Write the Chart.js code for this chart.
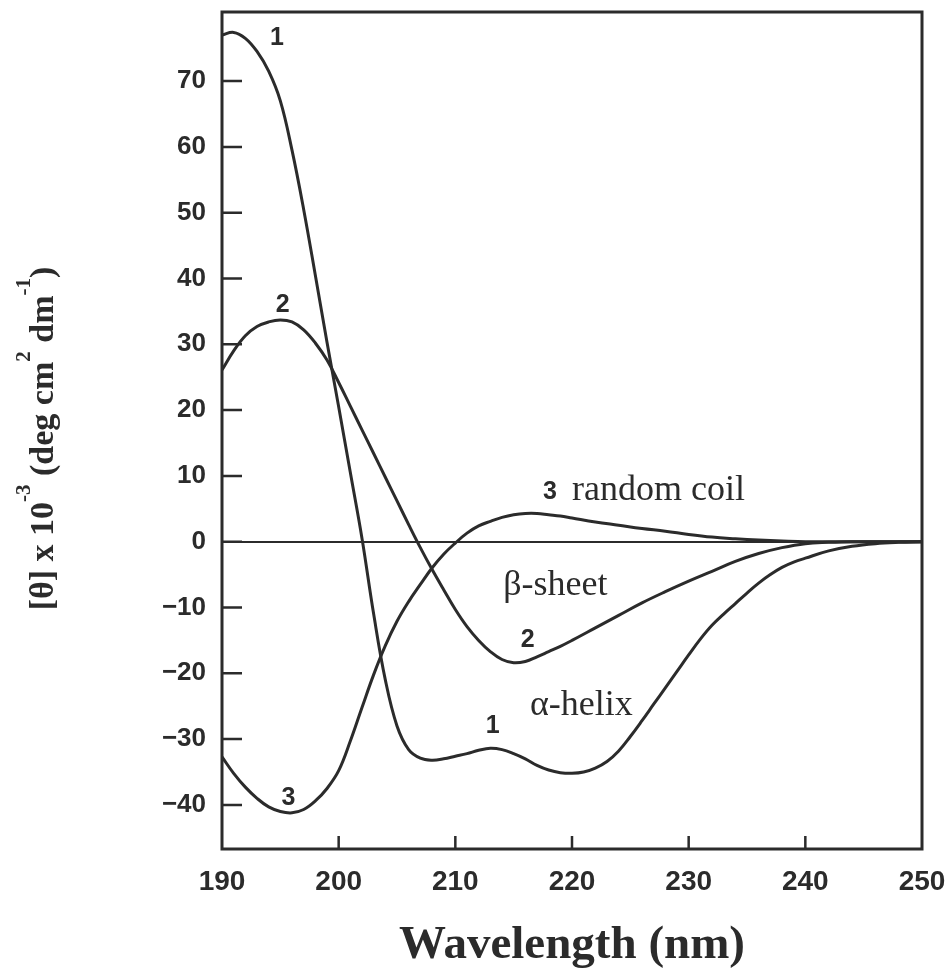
<!DOCTYPE html>
<html>
<head>
<meta charset="utf-8">
<script src="https://cdn.jsdelivr.net/npm/chart.js@4.4.0/dist/chart.umd.min.js"></script>
<style>
  html, body { margin: 0; padding: 0; background: #fff; }
  #wrap { width: 947px; height: 978px; position: relative; }
</style>
</head>
<body>
<div id="wrap"><canvas id="cdChart"></canvas></div>
<script>
// ================= DATA =================
// curve 1 : alpha-helix
const wlHelix = [190, 191, 192, 193, 194, 195, 196, 197, 198, 199, 200, 201, 202, 203, 204, 205, 206, 207, 208, 209,
  210, 211, 212, 213, 214, 215, 216, 217, 218, 219, 220, 221, 222, 223, 224, 225, 226, 227, 228, 229,
  230, 231, 232, 233, 234, 235, 236, 237, 238, 239, 240, 242, 244, 246, 248, 250];
const cdHelix = [77.0, 77.4, 76.5, 74.5, 71.5, 67.0, 59.5, 50.5, 40.5, 30.3, 20.5, 10.5, 0.5, -11.0, -21.0, -28.0, -31.6, -32.9, -33.2, -33.0,
  -32.6, -32.2, -31.7, -31.4, -31.6, -32.2, -33.0, -34.0, -34.7, -35.1, -35.2, -35.0, -34.4, -33.4, -31.8, -29.6, -27.2, -24.7, -22.2, -19.7,
  -17.2, -14.8, -12.7, -11.0, -9.4, -7.8, -6.3, -5.0, -3.9, -3.1, -2.5, -1.4, -0.7, -0.3, -0.1, 0];

// curve 2 : beta-sheet
const wlSheet = [190, 191, 192, 193, 194, 195, 196, 197, 198, 199, 200, 201, 202, 203, 204, 205, 206, 207, 208, 209,
  210, 211, 212, 213, 214, 215, 216, 217, 218, 219, 220, 222, 224, 226, 228, 230, 232, 234, 236, 238, 240, 242, 244, 250];
const cdSheet = [26.1, 29.0, 31.3, 32.7, 33.4, 33.7, 33.4, 32.2, 30.2, 27.6, 24.2, 20.6, 17.0, 13.4, 9.8, 6.2, 2.6, -0.9, -4.2, -7.3,
  -10.3, -12.9, -15.0, -16.7, -17.9, -18.4, -18.2, -17.5, -16.7, -15.9, -15.0, -13.1, -11.2, -9.3, -7.6, -6.0, -4.5, -3.0, -1.8, -0.9, -0.3, -0.1, 0, 0];

// curve 3 : random coil
const wlCoil = [190, 191, 192, 193, 194, 195, 196, 197, 198, 199, 200, 201, 202, 203, 204, 205, 206, 207, 208, 209,
  210, 211, 212, 213, 214, 215, 216, 217, 218, 219, 220, 222, 224, 226, 228, 230, 232, 234, 236, 238, 240, 250];
const cdCoil = [-32.7, -35.2, -37.3, -39.0, -40.3, -41.0, -41.2, -40.7, -39.4, -37.5, -34.8, -30.3, -25.2, -20.2, -15.8, -12.1, -9.1, -6.5, -4.0, -1.9,
  -0.2, 1.3, 2.4, 3.1, 3.7, 4.1, 4.3, 4.3, 4.1, 3.9, 3.6, 3.0, 2.5, 2.0, 1.6, 1.1, 0.7, 0.45, 0.25, 0.1, 0, 0];

const xTicks = [190, 200, 210, 220, 230, 240, 250];
const yTicks = [70, 60, 50, 40, 30, 20, 10, 0, -10, -20, -30, -40];

// ================= STYLE =================
const INK = "#2b2b2b";
const SANS = "'Liberation Sans', Arial, sans-serif";
const SERIF = "'Liberation Serif', 'Times New Roman', serif";

// text placed on the plot, in data units
const curveLabels = [
  { text: "1", x: 194.7, y: 76.6, serif: false },
  { text: "2", x: 195.2, y: 36.0, serif: false },
  { text: "3", x: 195.7, y: -38.9, serif: false },
  { text: "3", x: 218.1, y: 7.6, serif: false },
  { text: "random coil", x: 220.0, y: 6.4, serif: true },
  { text: "\u03b2-sheet", x: 214.1, y: -8.1, serif: true },
  { text: "2", x: 216.2, y: -14.9, serif: false },
  { text: "\u03b1-helix", x: 216.4, y: -26.3, serif: true },
  { text: "1", x: 213.2, y: -28.1, serif: false },
];

const yTitleParts = [
  { t: "[\u03b8] x 10" }, { t: "-3", sup: true }, { t: " (deg cm" }, { t: "2", sup: true },
  { t: " dm" }, { t: "-1", sup: true }, { t: ")" },
];

function toPoints(xs, ys) {
  return xs.map((x, i) => ({ x, y: ys[i] }));
}

// ================= DECOR PLUGIN =================
const cdDecor = {
  id: "cdDecor",
  afterDatasetsDraw(chart) {
    const { ctx, chartArea: a, scales: { x, y } } = chart;
    ctx.save();

    // frame
    ctx.strokeStyle = INK;
    ctx.lineWidth = 3;
    ctx.strokeRect(a.left, a.top, a.right - a.left, a.bottom - a.top);

    // inward ticks
    ctx.beginPath();
    yTicks.forEach(v => {
      const py = y.getPixelForValue(v);
      ctx.moveTo(a.left, py);
      ctx.lineTo(a.left + 20, py);
    });
    xTicks.slice(1, -1).forEach(v => {
      const px = x.getPixelForValue(v);
      ctx.moveTo(px, a.bottom);
      ctx.lineTo(px, a.bottom - 13);
    });
    ctx.lineWidth = 2.5;
    ctx.stroke();

    // curve labels
    ctx.fillStyle = INK;
    curveLabels.forEach(l => {
      const px = x.getPixelForValue(l.x);
      const py = y.getPixelForValue(l.y);
      if (l.serif) {
        ctx.font = "36px " + SERIF;
        ctx.textAlign = "left";
        ctx.textBaseline = "alphabetic";
      } else {
        ctx.font = "bold 25px " + SANS;
        ctx.textAlign = "center";
        ctx.textBaseline = "middle";
      }
      ctx.fillText(l.text, px, py);
    });

    // x title
    ctx.font = "bold 47px " + SERIF;
    ctx.textAlign = "center";
    ctx.textBaseline = "alphabetic";
    ctx.fillText("Wavelength (nm)", (a.left + a.right) / 2, 958);

    // y title with superscripts
    const size = 34;
    const supSize = 21;
    let total = 0;
    yTitleParts.forEach(p => {
      ctx.font = "bold " + (p.sup ? supSize : size) + "px " + SERIF;
      p.w = ctx.measureText(p.t).width;
      total += p.w;
    });
    ctx.translate(53, (a.top + a.bottom) / 2 + 8);
    ctx.rotate(-Math.PI / 2);
    ctx.textAlign = "left";
    let cx = -total / 2;
    yTitleParts.forEach(p => {
      ctx.font = "bold " + (p.sup ? supSize : size) + "px " + SERIF;
      ctx.fillText(p.t, cx, p.sup ? -23 : 0);
      cx += p.w;
    });

    ctx.restore();
  },
};

// ================= CHART =================
const lineStyle = {
  borderColor: INK,
  borderWidth: 3,
  pointRadius: 0,
  fill: false,
  tension: 0.4,
};

new Chart(document.getElementById("cdChart"), {
  type: "line",
  data: {
    datasets: [
      { label: "alpha-helix", data: toPoints(wlHelix, cdHelix), ...lineStyle },
      { label: "beta-sheet", data: toPoints(wlSheet, cdSheet), ...lineStyle },
      { label: "random coil", data: toPoints(wlCoil, cdCoil), ...lineStyle },
    ],
  },
  options: {
    responsive: true,
    maintainAspectRatio: false,
    animation: false,
    layout: { padding: { top: 12, right: 25, left: 0, bottom: 0 } },
    plugins: {
      legend: { display: false },
      tooltip: { enabled: false },
    },
    scales: {
      x: {
        type: "linear",
        min: 190,
        max: 250,
        afterBuildTicks: s => { s.ticks = xTicks.map(v => ({ value: v })); },
        afterFit: s => { s.height = 129; s.paddingLeft = 0; s.paddingRight = 0; },
        grid: { display: false, drawTicks: false },
        border: { display: false },
        ticks: {
          padding: 16,
          color: INK,
          maxRotation: 0,
          autoSkip: false,
          font: { family: SANS, weight: "bold", size: 28 },
        },
      },
      y: {
        type: "linear",
        min: -46.7,
        max: 80.5,
        afterBuildTicks: s => { s.ticks = yTicks.map(v => ({ value: v })); },
        afterFit: s => { s.width = 222; s.paddingTop = 0; s.paddingBottom = 0; },
        grid: {
          drawTicks: false,
          lineWidth: 2,
          color: c => (c.tick && c.tick.value === 0 ? INK : "rgba(0,0,0,0)"),
        },
        border: { display: false },
        ticks: {
          padding: 16,
          color: INK,
          font: { family: SANS, weight: "bold", size: 26 },
          callback: v => (v < 0 ? "\u2212" + Math.abs(v) : String(v)),
        },
      },
    },
  },
  plugins: [cdDecor],
});
</script>
</body>
</html>
